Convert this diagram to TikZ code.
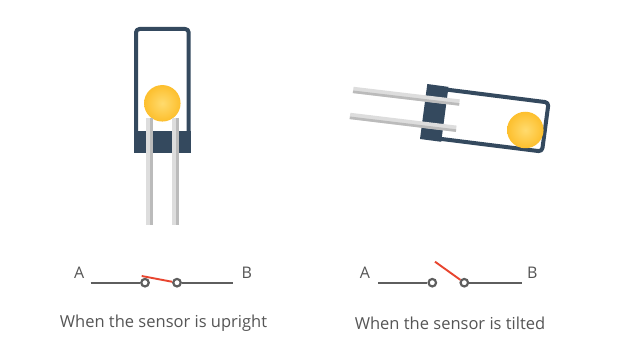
\documentclass[tikz,border=0pt]{standalone}
\usepackage{fontspec}
\setmainfont{Open Sans}
\definecolor{bodyblue}{HTML}{34495E}
\definecolor{wire}{HTML}{5E5E5E}
\definecolor{contact}{HTML}{E8452F}
\definecolor{inktext}{HTML}{555555}
\definecolor{ballout}{HTML}{FDBF2D}
\definecolor{ballin}{HTML}{FFDB6E}
\definecolor{pinlight}{HTML}{DDDDDD}
\definecolor{pindark}{HTML}{BBBBBB}
\tikzset{
  wall/.style={draw=bodyblue,line width=4pt,rounded corners=3.5pt,line join=round},
  base/.style={fill=bodyblue},
  ball/.style={circle,minimum size=36.5pt,inner sep=0pt,draw=none,inner color=ballin,outer color=ballout},
  lead/.style={fill=pinlight,draw=none},
  leadedge/.style={draw=pindark,line width=2.6pt},
  terminal/.style={circle,draw=wire,line width=2.2pt,fill=white,minimum size=7.5pt,inner sep=0pt},
  wireline/.style={draw=wire,line width=2.2pt},
  reed/.style={draw=contact,line width=1.9pt},
  lbl/.style={text=inktext,font=\fontsize{16}{19}\selectfont,inner sep=0pt},
  caption/.style={text=inktext,font=\fontsize{16.5}{19}\selectfont,inner sep=0pt}
}
\begin{document}
\begin{tikzpicture}[x=1pt,y=-1pt]
\useasboundingbox (0,0) rectangle (618,363);
\fill[white] (0,0) rectangle (618,363);

% upright sensor
\draw[wall] (136,150) -- (136,29) -- (188.7,29) -- (188.7,150);
\fill[base] (134,131) rectangle (190.7,152.6);
\node[ball] (ballU) at (162.3,103.3) {};
\fill[lead] (146,118) rectangle (152.8,225);
\draw[leadedge] (151.5,118) -- (151.5,225);
\fill[lead] (172,118) rectangle (178.8,225);
\draw[leadedge] (177.5,118) -- (177.5,225);

% tilted sensor
\draw[wall] (438,88.5) -- (548.6,102.5) -- (542,151.5) -- (432,137.8);
\fill[base] (427.3,84) -- (448.5,86.9) -- (441.2,141.8) -- (420,139) -- cycle;
\node[ball] (ballT) at (525.3,130) {};
\fill[lead] (353.6,86.8) -- (459.8,99.4) -- (459,105.6) -- (352.8,93) -- cycle;
\draw[leadedge] (353,91.8) -- (459.2,104.4);
\fill[lead] (350.4,112.8) -- (456.6,125.6) -- (455.8,131.8) -- (349.6,119) -- cycle;
\draw[leadedge] (349.8,117.8) -- (456,130.6);

% closed switch
\coordinate (a1) at (90.7,282.7);
\coordinate (b1) at (233.3,282.7);
\coordinate (r1) at (141.7,276);
\node[terminal] (t11) at (145,282.7) {};
\node[terminal] (t12) at (177,282.7) {};
\draw[wireline] (a1) -- (t11);
\draw[wireline] (t12) -- (b1);
\draw[reed] (r1) -- (t12);
\node[lbl] (la1) at (79.3,272.5) {A};
\node[lbl] (lb1) at (246.7,272.5) {B};
\node[caption] (cap1) at (163.5,323) {When the sensor is upright};

% open switch
\coordinate (a2) at (378.3,282.7);
\coordinate (b2) at (521.7,282.7);
\coordinate (r2) at (435,261.7);
\node[terminal] (t21) at (432.3,282.7) {};
\node[terminal] (t22) at (464.3,282.7) {};
\draw[wireline] (a2) -- (t21);
\draw[wireline] (t22) -- (b2);
\draw[reed] (r2) -- (t22);
\node[lbl] (la2) at (365,272.5) {A};
\node[lbl] (lb2) at (532.3,272.5) {B};
\node[caption] (cap2) at (450,323) {When the sensor is tilted};
\end{tikzpicture}
\end{document}
